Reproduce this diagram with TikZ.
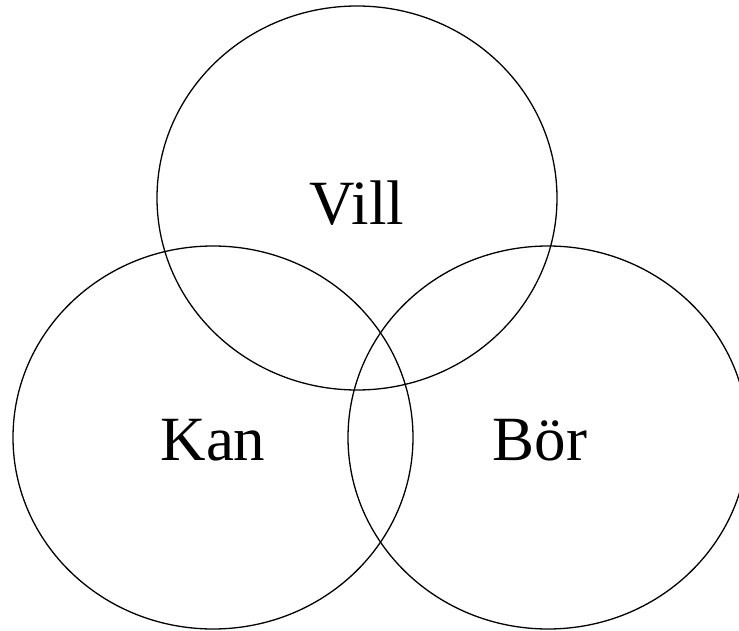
\documentclass[tikz,border=0pt]{standalone}
\usepackage{fontspec}
\setmainfont{Liberation Serif}
\begin{document}
\begin{tikzpicture}[x=1pt,y=1pt,
  setcircle/.style={draw=black,line width=1.3pt,ellipse},
  lbl/.style={font=\fontsize{63}{70}\selectfont,anchor=base,inner sep=0pt}]
\useasboundingbox (0,0) rectangle (739,630);
\clip (0,0) rectangle (739,630);
\draw[line width=1.3pt] (357,432) ellipse [x radius=200, y radius=192];
\draw[line width=1.3pt] (213,192.5) ellipse [x radius=200, y radius=191.5];
\draw[line width=1.3pt] (548,192.5) ellipse [x radius=200, y radius=191.5];
\node[lbl] (vill) at (357,405) {Vill};
\node[lbl] (kan) at (213,170) {Kan};
\node[lbl] (bor) at (540,170) {Bör};
\end{tikzpicture}
\end{document}
